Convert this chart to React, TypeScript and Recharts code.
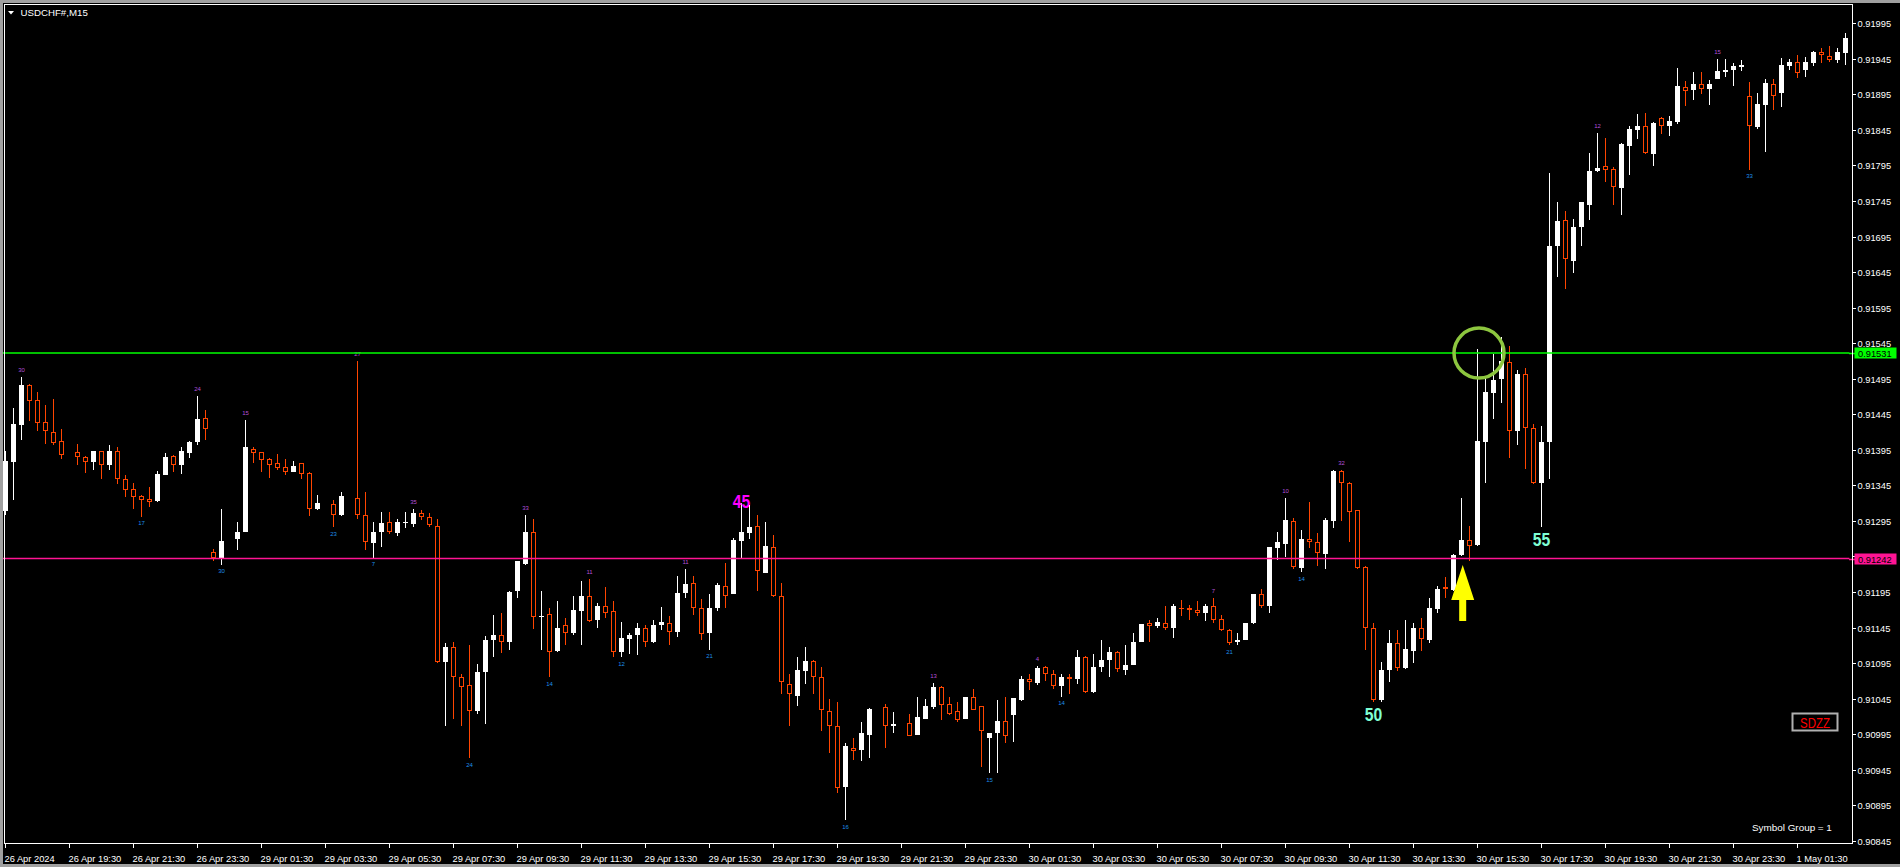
import React from 'react';
import { ComposedChart, Bar, XAxis, YAxis, ReferenceLine, ReferenceDot } from 'recharts';

// USDCHF#, M15 — one entry per bar, null where no bar is drawn
const opens = [
  0.91309, 0.91378, 0.9143, 0.91486, 0.91465, 0.91434, 0.9142, 0.91408, null, 0.91392,
  0.91385, 0.91378, 0.91393, 0.91374, 0.91393, 0.91354, 0.9134, 0.9133, 0.91326, 0.91323,
  0.91359, 0.91386, 0.91374, 0.91391, 0.91406, 0.9144, 0.91251, 0.91243, null, 0.9127,
  0.91279, 0.91396, 0.91392, 0.91382, 0.91376, 0.91371, 0.91364, 0.91376, 0.91363, 0.91312,
  null, 0.91319, 0.91303, null, 0.91327, 0.91303, 0.91264, 0.91279, 0.91293, 0.91278,
  0.91292, 0.91291, 0.91306, 0.913, 0.91288, 0.91097, 0.91117, 0.91075, 0.91064, 0.91027,
  0.91082, 0.91127, 0.91135, 0.91124, 0.91196, 0.91234, 0.9128, 0.9116, 0.91164, 0.91112,
  0.91149, 0.91138, 0.91168, 0.91189, 0.91155, 0.91176, 0.91168, 0.9111, 0.91129, 0.91134,
  0.91144, 0.91124, 0.91148, 0.91152, 0.91139, 0.91193, 0.91208, 0.91173, 0.91137, 0.91172,
  0.91204, 0.91192, 0.91267, 0.91278, 0.91288, 0.91222, 0.91258, 0.91189, 0.91065, 0.91049,
  0.91084, 0.91098, 0.91075, 0.91027, 0.91006, 0.90921, 0.90975, 0.90973, 0.90994, null,
  0.91033, 0.91006, null, 0.91011, 0.90994, 0.91016, 0.91033, 0.91062, 0.91037, 0.91027,
  0.91016, 0.91048, 0.91035, 0.9099, 0.90997, 0.91014, 0.91022, 0.91043, 0.91073, 0.91067,
  0.9109, 0.9108, 0.91063, 0.91076, 0.91073, 0.91104, 0.91054, 0.91089, 0.911, 0.91111,
  0.91086, 0.91092, 0.91125, 0.91152, 0.91147, 0.91152, 0.91144, 0.91173, 0.91172, 0.9117,
  0.91165, 0.91176, 0.91157, 0.91142, 0.91124, 0.91128, 0.91151, 0.91192, 0.91175, 0.91257,
  0.91262, 0.91295, 0.91229, 0.91269, 0.91265, 0.91249, 0.91295, 0.91365, 0.91349, 0.9131,
  0.9123, 0.91145, 0.91043, 0.91086, 0.91123, 0.91088, 0.91112, 0.91145, 0.91128, 0.91171,
  0.91202, 0.91198, 0.91247, 0.91268, 0.91261, 0.91406, 0.91475, 0.91494, 0.91518, 0.91421,
  0.91502, 0.91426, 0.91348, 0.91406, 0.91681, 0.91718, 0.91661, 0.91709, 0.91739, 0.91787,
  0.91794, 0.9179, 0.91763, 0.91822, 0.91845, 0.91851, 0.91811, 0.91862, 0.91851, 0.91856,
  0.91905, 0.91901, 0.9191, 0.91903, 0.91917, 0.91927, 0.91929, 0.91934, 0.91892, 0.91849,
  0.9188, 0.91909, 0.91897, 0.91935, 0.9194, 0.91929, 0.91939, 0.91955, 0.91949, 0.91943,
  0.91953,
];

const highs = [
  0.91394, 0.91454, 0.91497, 0.91487, 0.91476, 0.91458, 0.91467, 0.91424, null, 0.91403,
  0.91386, 0.91393, 0.91393, 0.91402, 0.91399, 0.9136, 0.91348, 0.91332, 0.91342, 0.91365,
  0.91391, 0.91388, 0.91399, 0.91407, 0.91471, 0.91451, 0.91255, 0.91312, null, 0.91293,
  0.91437, 0.91399, 0.91392, 0.91383, 0.91389, 0.91382, 0.91379, 0.91376, 0.91364, 0.91332,
  null, 0.91325, 0.91336, null, 0.9152, 0.91336, 0.91293, 0.91307, 0.91307, 0.91297,
  0.91307, 0.91312, 0.9131, 0.91306, 0.91297, 0.91123, 0.91125, 0.9108, 0.9112, 0.91094,
  0.91133, 0.91163, 0.91166, 0.91197, 0.91238, 0.91304, 0.91297, 0.91197, 0.91173, 0.91182,
  0.91159, 0.91189, 0.91211, 0.91213, 0.9118, 0.91202, 0.91182, 0.91153, 0.91137, 0.91151,
  0.91149, 0.91155, 0.91174, 0.91161, 0.91218, 0.91228, 0.91218, 0.91185, 0.91192, 0.91207,
  0.91236, 0.91271, 0.9132, 0.91317, 0.91304, 0.91293, 0.91275, 0.91207, 0.9108, 0.91103,
  0.91117, 0.911, 0.9109, 0.91045, 0.91041, 0.90982, 0.9099, 0.91012, 0.91032, null,
  0.91038, 0.91026, null, 0.91024, 0.91047, 0.91045, 0.91067, 0.91063, 0.91047, 0.91041,
  0.91048, 0.91058, 0.91035, 0.90997, 0.91043, 0.91047, 0.91046, 0.91077, 0.9108, 0.91091,
  0.91091, 0.91085, 0.9108, 0.9108, 0.91114, 0.91105, 0.91108, 0.91128, 0.91118, 0.91112,
  0.91121, 0.91138, 0.9115, 0.91155, 0.91159, 0.91176, 0.91178, 0.91184, 0.91177, 0.91182,
  0.91178, 0.91187, 0.91162, 0.91143, 0.91137, 0.91152, 0.91192, 0.91199, 0.91259, 0.9128,
  0.91327, 0.91299, 0.91282, 0.91322, 0.91278, 0.91299, 0.91366, 0.91366, 0.9135, 0.91311,
  0.91231, 0.91151, 0.91096, 0.91141, 0.91141, 0.91156, 0.91152, 0.91158, 0.91187, 0.91203,
  0.91216, 0.91249, 0.91327, 0.91288, 0.91537, 0.91497, 0.9153, 0.91554, 0.91541, 0.91507,
  0.9151, 0.91431, 0.91428, 0.91785, 0.91743, 0.91731, 0.91719, 0.91744, 0.91813, 0.9184,
  0.91834, 0.91793, 0.91826, 0.91851, 0.91867, 0.91869, 0.91856, 0.91863, 0.91865, 0.91932,
  0.91914, 0.91927, 0.91927, 0.91915, 0.91945, 0.91945, 0.91939, 0.91943, 0.91913, 0.91897,
  0.91917, 0.91917, 0.91946, 0.91945, 0.9195, 0.91948, 0.91956, 0.9196, 0.91963, 0.9196,
  0.91981,
];

const lows = [
  0.91304, 0.91324, 0.91409, 0.91435, 0.91421, 0.91403, 0.91402, 0.91382, null, 0.91373,
  0.91363, 0.91366, 0.91354, 0.91366, 0.91347, 0.91329, 0.91312, 0.91301, 0.91314, 0.91322,
  0.91359, 0.91364, 0.91361, 0.91383, 0.91402, 0.91409, 0.91238, 0.91233, null, 0.91254,
  0.91279, 0.91377, 0.91364, 0.91356, 0.91367, 0.9136, 0.91364, 0.91354, 0.91302, 0.91311,
  null, 0.91286, 0.91302, null, 0.91298, 0.91254, 0.91243, 0.91258, 0.91276, 0.91274,
  0.91285, 0.91286, 0.91296, 0.91287, 0.91095, 0.91006, 0.91016, 0.91007, 0.90961, 0.91024,
  0.9101, 0.91104, 0.91109, 0.91113, 0.91186, 0.91233, 0.91143, 0.91113, 0.91075, 0.91111,
  0.9112, 0.91135, 0.9112, 0.91153, 0.91144, 0.91158, 0.91104, 0.91103, 0.91108, 0.91107,
  0.91118, 0.91123, 0.91142, 0.91121, 0.91132, 0.91187, 0.91162, 0.91127, 0.91114, 0.91168,
  0.91172, 0.91192, 0.91241, 0.91269, 0.91196, 0.91222, 0.91188, 0.91051, 0.91006, 0.91034,
  0.91065, 0.91051, 0.90999, 0.90968, 0.90913, 0.90874, 0.90959, 0.90958, 0.90961, null,
  0.90975, 0.90997, null, 0.90992, 0.90994, 0.91016, 0.91031, 0.91015, 0.91022, 0.91012,
  0.91016, 0.91029, 0.90949, 0.9094, 0.9094, 0.90982, 0.90984, 0.91042, 0.91057, 0.91064,
  0.9107, 0.91058, 0.91048, 0.91052, 0.91065, 0.91053, 0.91053, 0.91083, 0.91075, 0.91082,
  0.91078, 0.91092, 0.91124, 0.91124, 0.91144, 0.91141, 0.9113, 0.91161, 0.91156, 0.91161,
  0.91154, 0.91152, 0.9114, 0.9112, 0.9112, 0.91127, 0.9115, 0.91172, 0.91166, 0.9124,
  0.91244, 0.91228, 0.91223, 0.91257, 0.91232, 0.91228, 0.91285, 0.91295, 0.91266, 0.91227,
  0.91113, 0.91041, 0.91041, 0.91068, 0.91084, 0.91087, 0.91095, 0.91112, 0.91123, 0.91165,
  0.91187, 0.91197, 0.91246, 0.91238, 0.9126, 0.91348, 0.91438, 0.91461, 0.91384, 0.91402,
  0.91368, 0.91347, 0.91287, 0.91354, 0.91638, 0.91621, 0.91643, 0.91682, 0.91718, 0.91786,
  0.91771, 0.91739, 0.91725, 0.91782, 0.91832, 0.91811, 0.91794, 0.91839, 0.91837, 0.91853,
  0.91879, 0.91887, 0.91896, 0.9188, 0.91916, 0.9192, 0.91907, 0.91928, 0.91789, 0.91846,
  0.91814, 0.91873, 0.91877, 0.91929, 0.91918, 0.91919, 0.91935, 0.91939, 0.91941, 0.91939,
  0.91936,
];

const closes = [
  0.91379, 0.91431, 0.91486, 0.91464, 0.91433, 0.91421, 0.91405, 0.91388, null, 0.91385,
  0.91378, 0.91393, 0.91374, 0.91393, 0.91354, 0.91339, 0.91328, 0.91324, 0.91322, 0.91361,
  0.91385, 0.91373, 0.91393, 0.91406, 0.91439, 0.91424, 0.91243, 0.91267, null, 0.9128,
  0.91399, 0.9139, 0.91381, 0.91374, 0.9137, 0.91364, 0.91372, 0.91361, 0.91312, 0.9132,
  null, 0.91303, 0.9133, null, 0.91303, 0.91265, 0.9128, 0.91292, 0.91279, 0.91293,
  0.91293, 0.91306, 0.913, 0.91289, 0.91096, 0.91117, 0.91075, 0.91062, 0.91027, 0.91083,
  0.91128, 0.91135, 0.91125, 0.91195, 0.91238, 0.9128, 0.9116, 0.91161, 0.9111, 0.91144,
  0.91138, 0.9117, 0.91189, 0.91154, 0.91176, 0.91166, 0.9111, 0.9113, 0.91135, 0.91144,
  0.91124, 0.91149, 0.91153, 0.91139, 0.91194, 0.91206, 0.91172, 0.91136, 0.91173, 0.91205,
  0.91189, 0.91268, 0.9128, 0.91286, 0.91224, 0.9126, 0.91189, 0.91068, 0.91051, 0.91085,
  0.91098, 0.91075, 0.91029, 0.91006, 0.9092, 0.90979, 0.90972, 0.90997, 0.91031, null,
  0.91006, 0.91009, null, 0.90993, 0.91019, 0.91035, 0.91062, 0.91036, 0.91023, 0.91015,
  0.91048, 0.91029, 0.90999, 0.90997, 0.91014, 0.90992, 0.91046, 0.91073, 0.91068, 0.91088,
  0.91079, 0.91063, 0.91076, 0.91072, 0.91104, 0.91054, 0.9109, 0.911, 0.91111, 0.91087,
  0.91093, 0.91125, 0.9115, 0.91147, 0.91153, 0.91144, 0.91176, 0.91172, 0.9117, 0.91165,
  0.91176, 0.91156, 0.91141, 0.91123, 0.91128, 0.91152, 0.91192, 0.91175, 0.91258, 0.91265,
  0.91296, 0.9123, 0.91269, 0.91265, 0.9125, 0.91296, 0.91365, 0.91349, 0.91308, 0.91229,
  0.91144, 0.91043, 0.91086, 0.91123, 0.91088, 0.91115, 0.91144, 0.91129, 0.91172, 0.91199,
  0.91199, 0.91247, 0.91268, 0.9126, 0.91408, 0.91477, 0.91493, 0.9152, 0.91422, 0.91502,
  0.91425, 0.91348, 0.91406, 0.91681, 0.91717, 0.91663, 0.91709, 0.91743, 0.91787, 0.91792,
  0.91788, 0.91765, 0.91825, 0.91846, 0.91851, 0.91812, 0.91855, 0.91851, 0.91858, 0.91907,
  0.919, 0.9191, 0.91903, 0.9191, 0.91928, 0.91929, 0.91935, 0.91936, 0.9185, 0.91882,
  0.91911, 0.91892, 0.91936, 0.91941, 0.91925, 0.91941, 0.91955, 0.9195, 0.91943, 0.91955,
  0.91974,
];

// small swing counters printed above highs / below lows
const highLabelIdx = [2, 24, 30, 44, 51, 65, 73, 85, 116, 129, 151, 160, 167, 199, 214];
const highLabelText = ['30', '24', '15', '27', '35', '33', '11', '11', '13', '4', '7', '10', '32', '12', '15'];
const lowLabelIdx = [17, 27, 41, 46, 58, 68, 77, 88, 105, 123, 132, 153, 162, 218];
const lowLabelText = ['17', '30', '23', '7', '24', '14', '12', '21', '16', '15', '14', '21', '14', '33'];

// big wave numbers
const waveIdx = [92, 171, 192];
const waveText = ['45', '50', '55'];
const waveSide = ['high', 'low', 'low'];
const waveColor = ['#ff00ff', '#7fffd4', '#7fffd4'];

const timeTickIdx = [
  0, 8, 16, 24, 32, 40, 48, 56, 64, 72, 80, 88, 96, 104, 112, 120, 128, 136, 144, 152,
  160, 168, 176, 184, 192, 200, 208, 216, 224,
];
const timeTickLabels = [
  '26 Apr 2024', '26 Apr 19:30', '26 Apr 21:30', '26 Apr 23:30',
  '29 Apr 01:30', '29 Apr 03:30', '29 Apr 05:30', '29 Apr 07:30', '29 Apr 09:30', '29 Apr 11:30',
  '29 Apr 13:30', '29 Apr 15:30', '29 Apr 17:30', '29 Apr 19:30', '29 Apr 21:30', '29 Apr 23:30',
  '30 Apr 01:30', '30 Apr 03:30', '30 Apr 05:30', '30 Apr 07:30', '30 Apr 09:30', '30 Apr 11:30',
  '30 Apr 13:30', '30 Apr 15:30', '30 Apr 17:30', '30 Apr 19:30', '30 Apr 21:30', '30 Apr 23:30',
  '1 May 01:30',
];

const priceTicks = [
  0.91995, 0.91945, 0.91895, 0.91845, 0.91795, 0.91745, 0.91695, 0.91645, 0.91595, 0.91545,
  0.91495, 0.91445, 0.91395, 0.91345, 0.91295, 0.91245, 0.91195, 0.91145, 0.91095, 0.91045,
  0.90995, 0.90945, 0.90895, 0.90845,
];

const resistance = 0.91531;
const support = 0.91242;

const FONT = "'Liberation Sans', Arial, sans-serif";
const BEAR = '#ff4500';

const data = opens.map((o, i) => {
  const hi = highLabelIdx.indexOf(i);
  const lo = lowLabelIdx.indexOf(i);
  const w = waveIdx.indexOf(i);
  return {
    i,
    o,
    h: highs[i],
    l: lows[i],
    c: closes[i],
    hiText: hi >= 0 ? highLabelText[hi] : null,
    loText: lo >= 0 ? lowLabelText[lo] : null,
    wave: w >= 0 ? { text: waveText[w], side: waveSide[w], color: waveColor[w] } : null,
  };
});

function Candle(props: any) {
  const { x, y, width, height, payload } = props;
  if (!payload || payload.o == null || !Number.isFinite(y) || !Number.isFinite(height)) return <g />;
  const { o, h, l, c } = payload;
  const top = Math.min(y, y + height);
  const bottom = Math.max(y, y + height);
  const py = (v: number) => top + ((h - v) / (h - l)) * (bottom - top);
  const rx = Math.round(x + width / 2 - 0.5);
  const bull = c >= o;
  const color = bull ? '#ffffff' : BEAR;
  const bt = Math.round(py(Math.max(o, c)));
  let bb = Math.round(py(Math.min(o, c)));
  if (bb - bt < 1) bb = bt + 1;
  const wave = payload.wave;
  return (
    <g shapeRendering="crispEdges">
      <line x1={rx + 0.5} x2={rx + 0.5} y1={Math.round(top)} y2={Math.round(bottom)} stroke={color} strokeWidth={1} />
      {bull || bb - bt <= 2 ? (
        <rect x={rx - 2} y={bt} width={5} height={bb - bt} fill={color} />
      ) : (
        <rect x={rx - 1.5} y={bt + 0.5} width={4} height={bb - bt - 1} fill="#000" stroke={BEAR} strokeWidth={1} />
      )}
      {payload.hiText && (
        <text x={rx + 0.5} y={top - 5} textAnchor="middle" fontSize={6} fill="#b050d8" fontFamily={FONT}>
          {payload.hiText}
        </text>
      )}
      {payload.loText && (
        <text x={rx + 0.5} y={bottom + 8.5} textAnchor="middle" fontSize={6} fill="#1e8fe6" fontFamily={FONT}>
          {payload.loText}
        </text>
      )}
      {wave && (
        <text
          x={rx + 0.5}
          y={wave.side === 'high' ? top + 4.7 : bottom + 19}
          textAnchor="middle"
          fontSize={19}
          fontWeight="bold"
          textLength={17.5}
          lengthAdjust="spacingAndGlyphs"
          fill={wave.color}
          fontFamily={FONT}
        >
          {wave.text}
        </text>
      )}
    </g>
  );
}

function TimeTick(props: any) {
  const { x, payload } = props;
  const k = timeTickIdx.indexOf(payload.value);
  if (k < 0) return <g />;
  const tx = Math.round(x - 0.5) + 0.5;
  return (
    <g>
      <line x1={tx} x2={tx} y1={843} y2={848} stroke="#fff" strokeWidth={1} />
      <text x={tx - 1} y={862} fontSize={9.3} fill="#fff" fontFamily={FONT}>
        {timeTickLabels[k]}
      </text>
    </g>
  );
}

function PriceTick(props: any) {
  const { y, payload } = props;
  const v = payload.value;
  const ty = Math.round(y) + 0.5;
  const level = v === resistance ? '#00ff00' : v === support ? '#ff1493' : null;
  if (level) {
    return (
      <g>
        <line x1={1849} x2={1855} y1={ty} y2={ty} stroke={level} strokeWidth={1.5} />
        <rect x={1854.5} y={ty - 6} width={42} height={11} fill={level} />
        <text x={1858} y={ty} dominantBaseline="central" fontSize={9.3} fill="#000" fontFamily={FONT}>
          {v.toFixed(5)}
        </text>
      </g>
    );
  }
  return (
    <g>
      <line x1={1852} x2={1856} y1={ty} y2={ty} stroke="#fff" strokeWidth={1} />
      <text x={1857.5} y={ty} dominantBaseline="central" fontSize={9.3} fill="#fff" fontFamily={FONT}>
        {v.toFixed(5)}
      </text>
    </g>
  );
}

export default function App() {
  return (
    <div style={{ position: 'relative', width: 1900, height: 867, background: '#000', overflow: 'hidden' }}>
      <style>{'body{margin:0;background:#000}'}</style>
      <ComposedChart width={1900} height={867} data={data} margin={{ top: 4, right: 0, bottom: 0, left: 1.4 }}>
        <XAxis
          dataKey="i"
          type="category"
          ticks={timeTickIdx}
          interval={0}
          height={24}
          axisLine={false}
          tickLine={false}
          tick={<TimeTick />}
        />
        <YAxis
          orientation="right"
          type="number"
          width={50.6}
          domain={[0.90842, 0.92022]}
          allowDataOverflow
          ticks={[...priceTicks, resistance, support]}
          interval={0}
          axisLine={false}
          tickLine={false}
          tick={<PriceTick />}
        />
        <Bar
          dataKey={(d: any) => (d.o == null ? null : [d.l, d.h])}
          shape={(p: any) => <Candle {...p} />}
          isAnimationActive={false}
        />
        <ReferenceLine y={resistance} stroke="#00ff00" strokeWidth={1.5} />
        <ReferenceLine y={support} stroke="#ff1493" strokeWidth={1.5} />
        <ReferenceDot
          x={184}
          y={resistance}
          r={25}
          shape={(p: any) => (
            <circle cx={p.cx + 1.6} cy={p.cy} r={25} fill="none" stroke="#8dc63f" strokeWidth={3.5} />
          )}
        />
        <ReferenceDot
          x={182}
          y={0.91233}
          r={10}
          shape={(p: any) => {
            const ax = p.cx + 1.3;
            const ay = p.cy;
            const pts = [
              [ax, ay],
              [ax - 11.5, ay + 35],
              [ax - 3.5, ay + 35],
              [ax - 3.5, ay + 56],
              [ax + 3.5, ay + 56],
              [ax + 3.5, ay + 35],
              [ax + 11.5, ay + 35],
            ]
              .map((q) => q.join(','))
              .join(' ');
            return <polygon points={pts} fill="#ffff00" />;
          }}
        />
      </ComposedChart>
      <svg
        width={1900}
        height={867}
        style={{ position: 'absolute', left: 0, top: 0, pointerEvents: 'none' }}
      >
        <rect x={0} y={0} width={1900} height={3} fill="#a0a0a0" />
        <rect x={0} y={0} width={3} height={867} fill="#a0a0a0" />
        <rect x={0} y={864} width={1900} height={3} fill="#a0a0a0" />
        <g shapeRendering="crispEdges" stroke="#fff" strokeWidth={1}>
          <line x1={4.5} x2={4.5} y1={4} y2={844} />
          <line x1={4} x2={1853} y1={4.5} y2={4.5} />
          <line x1={1852.5} x2={1852.5} y1={4} y2={844} />
          <line x1={4} x2={1853} y1={843.5} y2={843.5} />
        </g>
        <polygon points="8,11 14,11 11,14.5" fill="#fff" />
        <text x={20.5} y={16} fontSize={9.7} fill="#fff" fontFamily={FONT}>
          USDCHF#,M15
        </text>
        <rect x={1792.5} y={713.5} width={45} height={17} fill="#000" stroke="#b0b0b0" strokeWidth={2} />
        <text
          x={1815}
          y={727.5}
          textAnchor="middle"
          fontSize={15}
          textLength={30}
          lengthAdjust="spacingAndGlyphs"
          fill="#ff0000"
          fontFamily={FONT}
        >
          SDZZ
        </text>
        <text x={1752} y={831} fontSize={9.9} fill="#fff" fontFamily={FONT}>
          Symbol Group = 1
        </text>
      </svg>
    </div>
  );
}
